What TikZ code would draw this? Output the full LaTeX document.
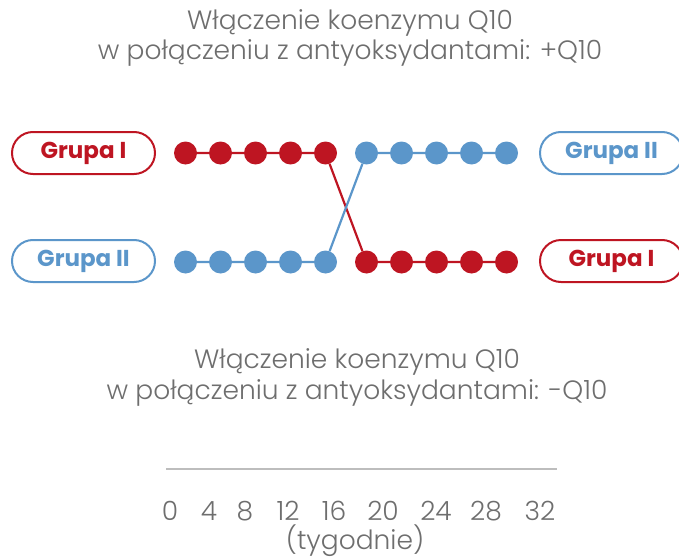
\documentclass[tikz,border=0pt]{standalone}
\usepackage{fontspec}
\setmainfont{Poppins}
\newfontfamily\lightfont{Poppins Light}
\newfontfamily\pillfont{Poppins Bold}
\definecolor{qred}{HTML}{BE1522}
\definecolor{qblue}{HTML}{5B96CA}
\definecolor{qgrey}{HTML}{6E6E6E}
\definecolor{qline}{HTML}{BDBDBD}
\begin{document}
\begin{tikzpicture}[x=1pt,y=-1pt,
  titletext/.style={font=\lightfont\fontsize{26.5}{30}\selectfont, text=qgrey, anchor=base, inner sep=0pt},
  pill/.style={draw, line width=2pt, rounded corners=21pt, minimum width=143pt, minimum height=42pt,
    font=\pillfont\fontsize{23}{26}\selectfont, inner sep=0pt},
  dotnode/.style={circle, fill, minimum size=23pt, inner sep=0pt},
  link/.style={line width=2.2pt}]
\clip (0,0) rectangle (679,559);
\useasboundingbox (0,0) rectangle (679,559);

% top title
\node[titletext] (t1) at (350,30) {Włączenie koenzymu Q10};
\node[titletext] (t2) at (350,60) {w połączeniu z antyoksydantami: +Q10};

% pills
\node[pill, qred] (pl1) at (83.5,153) {Grupa I};
\node[pill, qblue] (pl2) at (83.5,261) {Grupa II};
\node[pill, qblue] (pr1) at (611.5,153) {Grupa II};
\node[pill, qred] (pr2) at (611.5,261) {Grupa I};

% dots
\foreach \i in {1,...,5} {
  \node[dotnode, qred] (r\i) at ({185.5+35*(\i-1)},153) {};
  \node[dotnode, qblue] (b\i) at ({185.5+35*(\i-1)},262) {};
}
\foreach \i in {6,...,10} {
  \node[dotnode, qred] (r\i) at ({366.5+35*(\i-6)},262) {};
  \node[dotnode, qblue] (b\i) at ({366.5+35*(\i-6)},153) {};
}
\draw[link, qred] (r1)--(r2) (r2)--(r3) (r3)--(r4) (r4)--(r5) (r5)--(r6) (r6)--(r7) (r7)--(r8) (r8)--(r9) (r9)--(r10);
\draw[link, qblue] (b1)--(b2) (b2)--(b3) (b3)--(b4) (b4)--(b5) (b5)--(b6) (b6)--(b7) (b7)--(b8) (b8)--(b9) (b9)--(b10);

% bottom title
\node[titletext] (t3) at (357,368) {Włączenie koenzymu Q10};
\node[titletext] (t4) at (357,399) {w połączeniu z antyoksydantami: -Q10};

% axis
\coordinate (a0) at (166,469);
\coordinate (a1) at (557,469);
\draw[qline, line width=2pt] (a0) -- (a1);
\foreach \x/\v in {170/0,209/4,245/8,288/12,334/16,383/20,436/24,486/28,540/32} {
  \node[titletext] (n\v) at (\x,520) {\v};
}
\node[titletext] (unit) at (355,549) {(tygodnie)};
\end{tikzpicture}
\end{document}
